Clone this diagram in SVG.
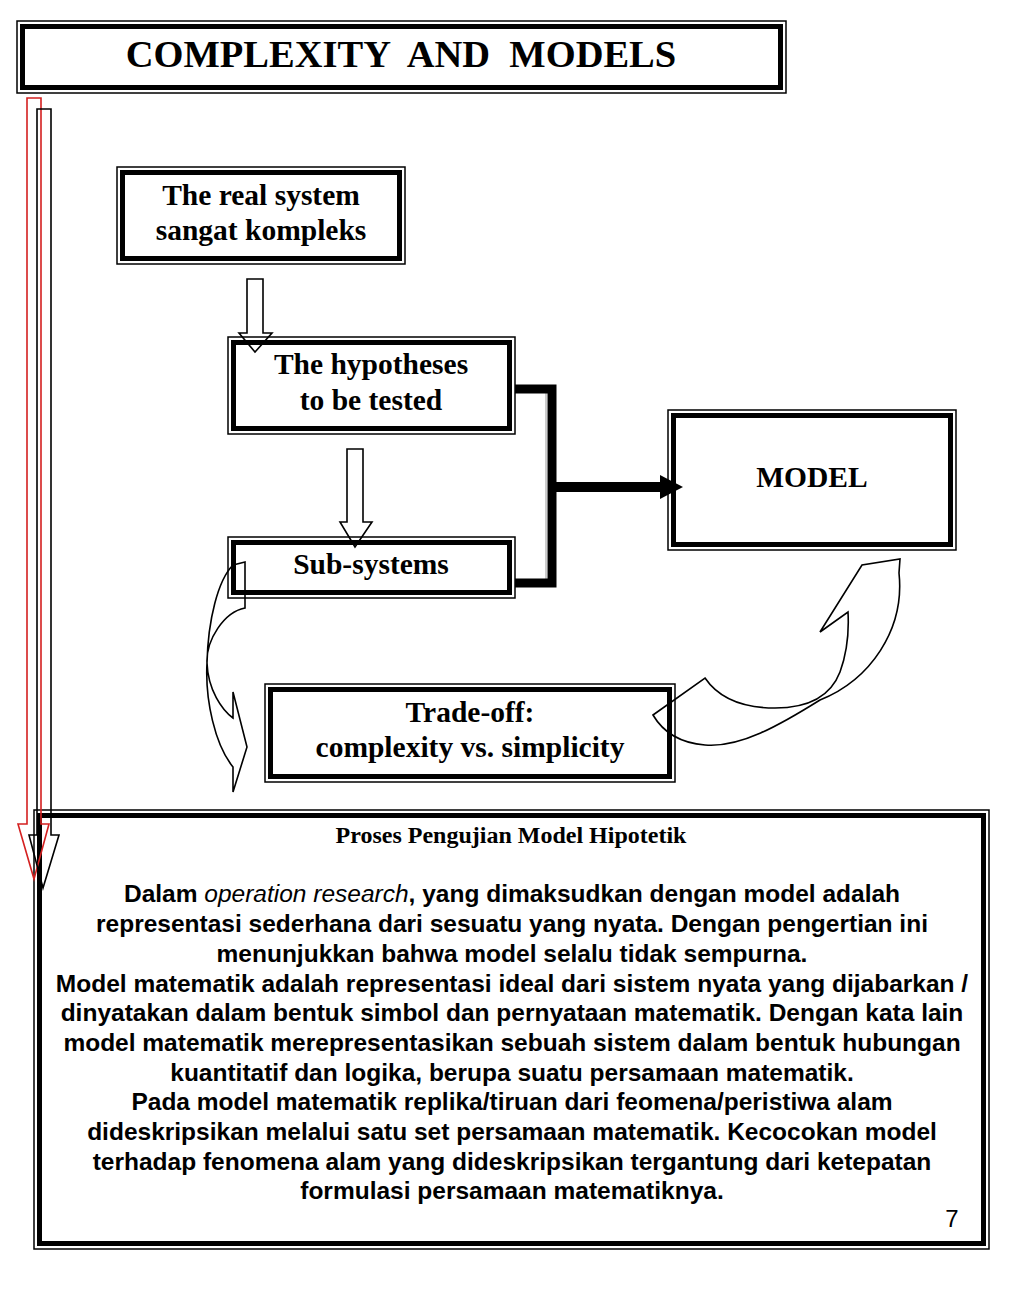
<svg xmlns="http://www.w3.org/2000/svg" width="1023" height="1314" viewBox="0 0 1023 1314">
<style>
.thin{fill:none;stroke:#000;stroke-width:1.5}
.thick{fill:none;stroke:#000;stroke-width:5}
.bt{font-family:"Liberation Serif","Times New Roman",serif;font-weight:bold;font-size:29.5px;text-anchor:middle;fill:#000}
.body{font-family:"Liberation Sans",Arial,sans-serif;font-weight:bold;font-size:24.5px;text-anchor:middle;fill:#000}
.outl{fill:none;stroke:#000;stroke-width:1.6;stroke-linejoin:miter}
</style>
<rect width="1023" height="1314" fill="#fff"/>

<g id="title">
<rect class="thin" x="17" y="21" width="769" height="72"/>
<rect class="thick" x="22.5" y="26.5" width="758" height="61"/>
<text x="401" y="67" font-family="Liberation Serif,'Times New Roman',serif" font-weight="bold" font-size="38.5" text-anchor="middle" style="white-space:pre">COMPLEXITY  AND  MODELS</text>
</g>

<g id="node-real-system">
<rect class="thin" x="117" y="167" width="288" height="97"/>
<rect class="thick" x="122.5" y="172.5" width="277" height="86"/>
<text class="bt" x="261" y="205">The real system</text>
<text class="bt" x="261" y="240">sangat kompleks</text>
</g>

<g id="node-hypotheses">
<rect class="thin" x="228" y="337" width="287" height="97"/>
<rect class="thick" x="233.5" y="342.5" width="276" height="86"/>
<text class="bt" x="371" y="374">The hypotheses</text>
<text class="bt" x="371" y="410">to be tested</text>
</g>

<g id="node-subsystems">
<rect class="thin" x="228" y="537" width="287" height="61"/>
<rect class="thick" x="233.5" y="542.5" width="276" height="50"/>
<text class="bt" x="371" y="574">Sub-systems</text>
</g>

<g id="node-model">
<rect class="thin" x="668" y="410" width="288" height="140"/>
<rect class="thick" x="673.5" y="415.5" width="277" height="129"/>
<text class="bt" x="812" y="487">MODEL</text>
</g>

<g id="node-tradeoff">
<rect class="thin" x="265" y="684" width="410" height="98"/>
<rect class="thick" x="270.5" y="689.5" width="399" height="87"/>
<text class="bt" x="470" y="722">Trade-off:</text>
<text class="bt" x="470" y="757">complexity vs. simplicity</text>
</g>

<g id="node-text-box">
<rect class="thin" x="34" y="810" width="955" height="439"/>
<rect class="thick" x="39.5" y="815.5" width="944" height="428"/>
<text x="511" y="843" font-family="Liberation Serif,'Times New Roman',serif" font-weight="bold" font-size="24" text-anchor="middle">Proses Pengujian Model Hipotetik</text>
<text class="body" x="512" y="902">Dalam <tspan font-style="italic" font-weight="normal">operation research</tspan>, yang dimaksudkan dengan model adalah</text>
<text class="body" x="512" y="932">representasi sederhana dari sesuatu yang nyata. Dengan pengertian ini</text>
<text class="body" x="512" y="962">menunjukkan bahwa model selalu tidak sempurna.</text>
<text class="body" x="512" y="992">Model matematik adalah representasi ideal dari sistem nyata yang dijabarkan /</text>
<text class="body" x="512" y="1021">dinyatakan dalam bentuk simbol dan pernyataan matematik. Dengan kata lain</text>
<text class="body" x="512" y="1051">model matematik merepresentasikan sebuah sistem dalam bentuk hubungan</text>
<text class="body" x="512" y="1081">kuantitatif dan logika, berupa suatu persamaan matematik.</text>
<text class="body" x="512" y="1110">Pada model matematik replika/tiruan dari feomena/peristiwa alam</text>
<text class="body" x="512" y="1140">dideskripsikan melalui satu set persamaan matematik. Kecocokan model</text>
<text class="body" x="512" y="1170">terhadap fenomena alam yang dideskripsikan tergantung dari ketepatan</text>
<text class="body" x="512" y="1199">formulasi persamaan matematiknya.</text>
<text x="952" y="1227" font-family="Liberation Sans,Arial,sans-serif" font-size="24" text-anchor="middle">7</text>
</g>

<g id="connectors">
<polygon points="27,98 41,98 41,824 49,824 34,879 18,824 27,824" fill="none" stroke="#d42020" stroke-width="1.6"/>
<polygon points="37,109 51,109 51,835 59,835 43,888 29,835 37,835" class="outl"/>
<polygon points="247,279 263,279 263,333 272,333 255,352 239,333 247,333" class="outl"/>
<polygon points="347,449 363,449 363,522 372,522 355,547 340,522 347,522" class="outl"/>
<line x1="546" y1="392" x2="546" y2="580" stroke="#999" stroke-width="1"/>
<polyline points="515,389 552,389 552,583 515,583" fill="none" stroke="#000" stroke-width="9"/>
<line x1="552" y1="487" x2="664" y2="487" stroke="#000" stroke-width="10"/>
<polygon points="660,475 683,487 660,499" fill="#000"/>
<path class="outl" d="M233,565 L245,562 L245,608 C224,612 206,640 207,663 C208,690 222,710 233,718 L233,692 L247,747 L233,792 L233,767 C215,745 205,700 207,663 C208,620 218,580 233,565 Z"/>
<path class="outl" d="M653,715 L705,678 C720,700 745,708 775,708 C805,708 830,698 840,672 C848,650 849,630 848,612 L820,632 L862,565 L900,559 L899,573 C905,630 870,680 820,700 C780,725 740,748 705,745 C680,743 663,732 653,715 Z"/>
</g>
</svg>
